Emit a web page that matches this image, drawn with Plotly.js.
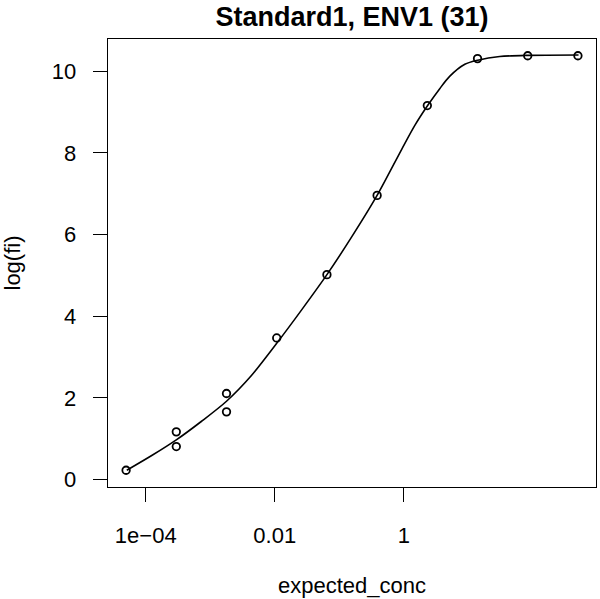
<!DOCTYPE html>
<html>
<head>
<meta charset="utf-8">
<script src="https://cdn.plot.ly/plotly-3.0.1.min.js"></script>
<style>html,body{margin:0;padding:0;background:#fff;}#chart{width:600px;height:599px;}</style>
</head>
<body>
<div id="chart"></div>
<script>
// Observed standards (expected concentration, log fluorescence intensity)
var concPoints = [4.96e-5, 2.977e-4, 2.977e-4, 1.786e-3, 1.786e-3, 0.01072, 0.0643, 0.3858, 2.315, 13.89, 83.33, 500];
var logFi = [0.23, 1.17, 0.81, 2.11, 1.66, 3.47, 5.02, 6.96, 9.16, 10.31, 10.38, 10.38];

// Fitted curve
var curveConc = [5.085e-5, 1.238e-4, 3.013e-4, 7.335e-4, 1.786e-3, 4.347e-3, 0.01085, 0.02642, 0.06432, 0.1565, 0.3853, 0.9279, 1.490, 2.341, 3.627, 5.178, 8.830, 14.02, 30.69, 83.10, 510.5];
var curveLogFi = [0.23, 0.59, 0.98, 1.43, 1.92, 2.55, 3.35, 4.17, 5.02, 5.95, 6.96, 8.09, 8.68, 9.16, 9.58, 9.88, 10.17, 10.27, 10.36, 10.39, 10.40];

var tickVals = [1e-4, 0.01, 1];
var tickText = ['1e\u221204', '0.01', '1'];
var yTickVals = [0, 2, 4, 6, 8, 10];

var FONT = 'Liberation Sans, Arial, sans-serif';

var traces = [
  {
    x: curveConc, y: curveLogFi, type: 'scatter', mode: 'lines',
    line: {color: '#000', width: 1.6, shape: 'spline', smoothing: 0.8},
    hoverinfo: 'skip', showlegend: false
  },
  {
    x: concPoints, y: logFi, type: 'scatter', mode: 'markers',
    marker: {symbol: 'circle-open', size: 7.5, color: '#000', line: {color: '#000', width: 1.8}},
    showlegend: false
  }
];

var layout = {
  width: 600, height: 599,
  paper_bgcolor: '#fff', plot_bgcolor: '#fff',
  margin: {l: 108, r: 4, t: 39, b: 112, pad: 0},
  font: {family: FONT, size: 22, color: '#000'},
  title: {
    text: '<b>Standard1, ENV1 (31)</b>',
    font: {family: FONT, size: 27, color: '#000'},
    x: 0.5, xanchor: 'center', xref: 'paper',
    y: 1 - 17 / 599, yanchor: 'middle', yref: 'container'
  },
  xaxis: {
    type: 'log',
    range: [-4.585, 2.979],
    tickvals: tickVals, ticktext: tickText,
    ticks: 'outside', ticklen: 14, tickwidth: 1, tickcolor: '#000',
    ticklabelstandoff: 14,
    showline: true, linecolor: '#000', linewidth: 1.3, mirror: true,
    showgrid: false, zeroline: false,
    tickfont: {family: FONT, size: 22, color: '#000'},
    title: {text: 'expected_conc', font: {family: FONT, size: 22, color: '#000'}, standoff: 31}
  },
  yaxis: {
    range: [-0.18, 10.79],
    tickvals: yTickVals,
    ticks: 'outside', ticklen: 14, tickwidth: 1, tickcolor: '#000',
    ticklabelstandoff: 12,
    showline: true, linecolor: '#000', linewidth: 1.3, mirror: true,
    showgrid: false, zeroline: false,
    tickfont: {family: FONT, size: 22, color: '#000'},
    title: {text: 'log(fi)', font: {family: FONT, size: 22, color: '#000'}, standoff: 27}
  }
};

Plotly.newPlot('chart', traces, layout, {staticPlot: true, displayModeBar: false});
</script>
</body>
</html>
